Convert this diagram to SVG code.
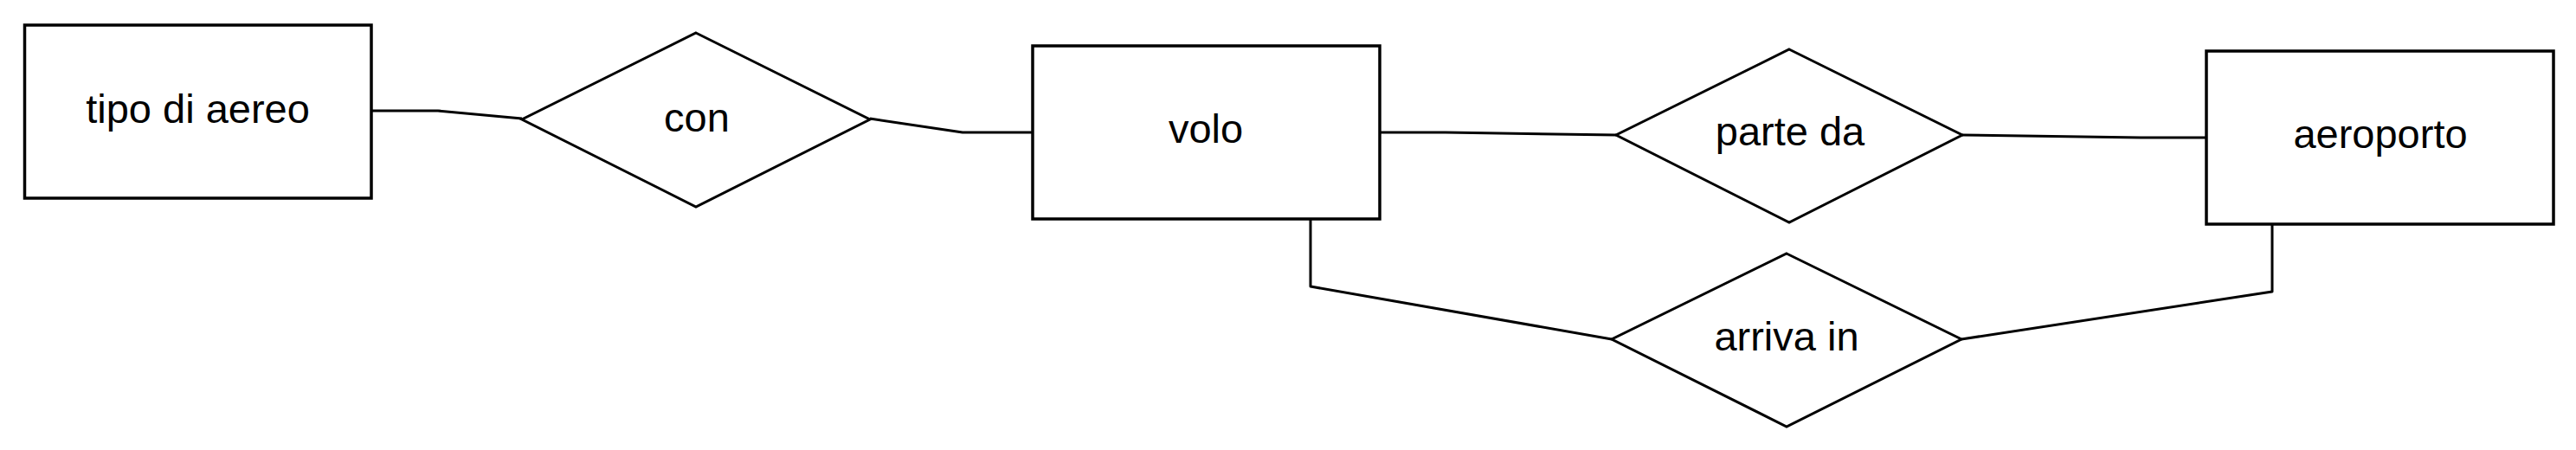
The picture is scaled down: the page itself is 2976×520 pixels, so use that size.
<svg xmlns="http://www.w3.org/2000/svg" width="2976" height="520" viewBox="0 0 2976 520">
<style>
.ent{fill:#fff;stroke:#000;stroke-width:3.5}
.rel{fill:#fff;stroke:#000;stroke-width:3}
.lbl{font-family:"Liberation Sans",Arial,sans-serif;font-size:47px;fill:#000;text-anchor:middle}
.edge{fill:none;stroke:#000;stroke-width:3;stroke-linejoin:round}
</style>
<rect width="2976" height="520" fill="#fff"/>
<g id="connectors">
<polyline class="edge" points="429,128 506,128 603,137"/>
<polyline class="edge" points="1005,137 1112,153 1193,153"/>
<polyline class="edge" points="1594,153 1670,153 1867,156"/>
<polyline class="edge" points="2267,156 2473,159 2549,159"/>
<polyline class="edge" points="1514,253 1514,331 1862,392"/>
<polyline class="edge" points="2266,392 2625,337 2625,259"/>
</g>
<g id="tipo-di-aereo">
<rect class="ent" x="28.5" y="29" width="400.5" height="200"/>
<text class="lbl" x="228.5" y="142">tipo di aereo</text>
</g>
<g id="con">
<polygon class="rel" points="804,38 1005,138 804,239 603,138"/>
<text class="lbl" x="805" y="152">con</text>
</g>
<g id="volo">
<rect class="ent" x="1193" y="53" width="401" height="200"/>
<text class="lbl" x="1393" y="165">volo</text>
</g>
<g id="parte-da">
<polygon class="rel" points="2067,57 2267,156 2067,257 1867,156"/>
<text class="lbl" x="2068" y="168">parte da</text>
</g>
<g id="aeroporto">
<rect class="ent" x="2549" y="59" width="401" height="200"/>
<text class="lbl" x="2750" y="171">aeroporto</text>
</g>
<g id="arriva-in">
<polygon class="rel" points="2064,293 2266,392 2064,493 1862,392"/>
<text class="lbl" x="2064" y="405">arriva in</text>
</g>
</svg>
